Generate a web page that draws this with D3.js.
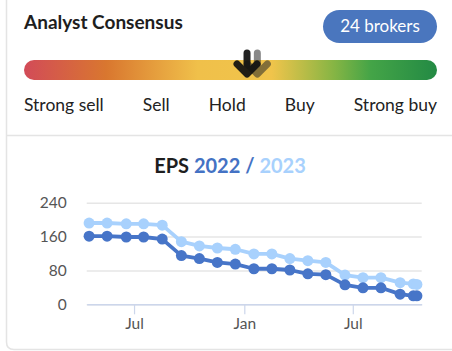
<!DOCTYPE html>
<html>
<head>
<meta charset="utf-8">
<script src="https://cdn.jsdelivr.net/npm/d3@7"></script>
<style>
  body { margin: 0; background: #fff; font-family: Lato, "Open Sans", sans-serif; }
  svg { display: block; }
</style>
</head>
<body>
<div id="chart"></div>
<script>
// consensus block
const ratingLabels = ["Strong sell", "Sell", "Hold", "Buy", "Strong buy"];
const brokers = 24;
const consensus = 3.16;      // current
const consensusPrev = 3.26;  // previous

// EPS series (monthly revisions)
const dates = ["2022-04-17", "2022-05-17", "2022-06-18", "2022-07-17", "2022-08-17", "2022-09-18",
  "2022-10-18", "2022-11-17", "2022-12-17", "2023-01-17", "2023-02-16", "2023-03-18",
  "2023-04-17", "2023-05-17", "2023-06-18", "2023-07-18", "2023-08-17", "2023-09-18",
  "2023-10-10", "2023-10-16"];
const eps2022 = [161, 161, 159, 159, 154, 115, 108, 99, 95, 84, 84, 81, 72, 70, 46, 39, 39, 24, 20, 20];
const eps2023 = [192, 192, 190, 190, 187, 148, 138, 133, 130, 119, 119, 108, 103, 99, 69, 63, 63, 51, 48, 47];
const xDomain = ["2022-04-13", "2023-10-24"];
const xTicks = ["2022-07-01", "2023-01-01", "2023-07-01"];
const yTicks = [0, 80, 160, 240];

const W = 452, H = 351;
const parse = d3.timeParse("%Y-%m-%d");

const svg = d3.select("#chart").append("svg")
  .attr("width", W)
  .attr("height", H);

//card borders
svg.append("path")
  .attr("d", `M6.5,0 V342 Q6.5,349.5 14,349.5 H452`)
  .attr("fill", "none")
  .attr("stroke", "#e4e4e4")
  .attr("stroke-width", 1.5);
svg.append("line")
  .attr("x1", 7).attr("x2", W)
  .attr("y1", 135.5).attr("y2", 135.5)
  .attr("stroke", "#e4e4e4")
  .attr("stroke-width", 1.5);

// --------- header
svg.append("text")
  .attr("x", 24)
  .attr("y", 29)
  .style("font-size", "19px")
  .style("font-weight", "bold")
  .style("fill", "#1e1e1e")
  .text("Analyst Consensus");

svg.append("rect")
  .attr("x", 323).attr("y", 10)
  .attr("width", 114).attr("height", 33)
  .attr("rx", 16.5)
  .attr("fill", "#4a76be");
svg.append("text")
  .attr("x", 380).attr("y", 32)
  .attr("text-anchor", "middle")
  .style("font-size", "17px")
  .style("fill", "#fff")
  .text(`${brokers} brokers`);

// --------- gradient bar
const barX0 = 24, barX1 = 437;
const grad = svg.append("defs").append("linearGradient")
  .attr("id", "cons")
  .attr("x1", "0%").attr("x2", "100%");
[[0, "#d24b58"], [0.2, "#d9772f"], [0.42, "#f0c04a"], [0.6, "#f0c44b"],
 [0.75, "#86b544"], [0.84, "#44a447"], [1, "#238a44"]].forEach(s => {
  grad.append("stop").attr("offset", s[0]).attr("stop-color", s[1]);
});
svg.append("rect")
  .attr("x", barX0).attr("y", 60)
  .attr("width", barX1 - barX0).attr("height", 20)
  .attr("rx", 10)
  .attr("fill", "url(#cons)");

const consScale = d3.scaleLinear().domain([1, 5]).range([barX0, barX1]);

function arrow(v, color, op) {
  const x = consScale(v);
  const g = svg.append("g").attr("opacity", op);
  g.append("line")
    .attr("x1", x).attr("x2", x)
    .attr("y1", 53).attr("y2", 73)
    .attr("stroke", color).attr("stroke-width", 7)
    .attr("stroke-linecap", "round");
  g.append("path")
    .attr("d", `M${x - 10},${64} L${x},${74} L${x + 10},${64}`)
    .attr("fill", "none")
    .attr("stroke", color).attr("stroke-width", 7)
    .attr("stroke-linecap", "round")
    .attr("stroke-linejoin", "round");
}
arrow(consensusPrev, "#2a2a2a", 0.55);
arrow(consensus, "#111", 0.92);

// labels spread like space-between
const lbl = svg.append("g").selectAll("text")
  .data(ratingLabels)
  .join("text")
  .attr("y", 111)
  .style("font-size", "17.5px")
  .style("fill", "#222")
  .text(d => d);
const widths = lbl.nodes().map(n => n.getComputedTextLength());
const gap = (barX1 - barX0 - d3.sum(widths)) / (ratingLabels.length - 1);
let cx = barX0;
lbl.attr("x", (d, i) => { const x = cx; cx += widths[i] + gap; return x; });

// --------- EPS chart
const title = svg.append("text")
  .attr("x", 230).attr("y", 173)
  .attr("text-anchor", "middle")
  .style("font-size", "20px")
  .style("font-weight", "bold");
title.append("tspan").style("fill", "#1e1e1e").text("EPS ");
title.append("tspan").style("fill", "#4472c4").text("2022 / ");
title.append("tspan").style("fill", "#a8d1fd").text("2023");

const xScale = d3.scaleTime()
  .domain(xDomain.map(parse))
  .range([86.7, 421.7]);
const yScale = d3.scaleLinear()
  .domain([0, 240])
  .range([304.3, 202.7]);

// grid + y labels
const yAxis = svg.append("g")
  .attr("transform", "translate(86.7,0)")
  .call(d3.axisLeft(yScale).tickValues(yTicks).tickSize(-(421.7 - 86.7)).tickPadding(20));
yAxis.select(".domain").remove();
yAxis.selectAll(".tick line")
  .attr("stroke", "#e6e6e6")
  .attr("stroke-width", 1.5);
yAxis.selectAll(".tick text")
  .style("font-family", "Lato, sans-serif")
  .style("font-size", "15.5px")
  .style("fill", "#555");

// x axis
const xAxis = svg.append("g")
  .attr("transform", "translate(0,304.3)")
  .call(d3.axisBottom(xScale)
    .tickValues(xTicks.map(parse))
    .tickFormat(d3.timeFormat("%b"))
    .tickSize(10)
    .tickSizeOuter(0)
    .tickPadding(4));
xAxis.select(".domain")
  .attr("stroke", "#ccd6eb")
  .attr("stroke-width", 1.5);
xAxis.selectAll(".tick line")
  .attr("stroke", "#ccd6eb")
  .attr("stroke-width", 1.2);
xAxis.selectAll(".tick text")
  .style("font-family", "Lato, sans-serif")
  .style("font-size", "15.5px")
  .style("fill", "#555");

const series = [
  { key: "2023", values: eps2023, color: "#a8d1fd" },
  { key: "2022", values: eps2022, color: "#4775c8" }
];

const line = d3.line()
  .x((d, i) => xScale(parse(dates[i])))
  .y(d => yScale(d));

series.forEach(s => {
  svg.append("path")
    .datum(s.values)
    .attr("d", line)
    .attr("fill", "none")
    .attr("stroke", s.color)
    .attr("stroke-width", 3.8)
    .attr("stroke-linejoin", "round");

  svg.append("g").selectAll("circle")
    .data(s.values)
    .join("circle")
    .attr("cx", (d, i) => xScale(parse(dates[i])))
    .attr("cy", d => yScale(d))
    .attr("r", 5.5)
    .attr("fill", s.color);
});
</script>
</body>
</html>
